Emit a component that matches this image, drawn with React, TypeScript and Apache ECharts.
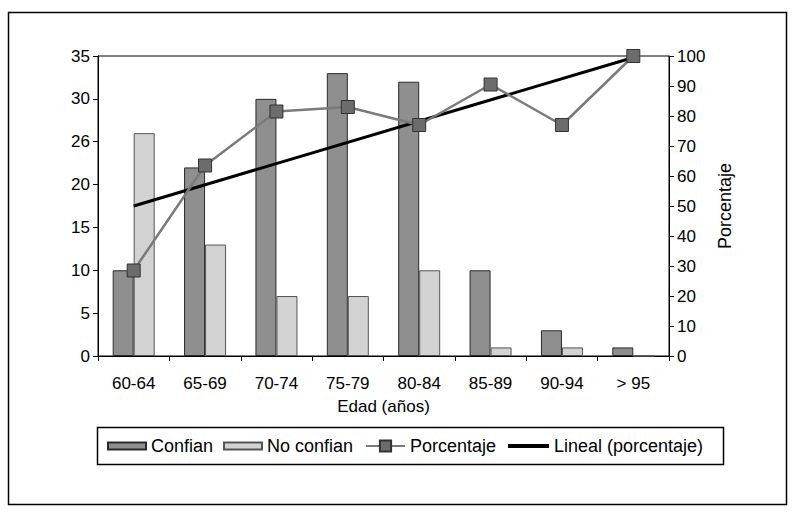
import React, { useEffect, useRef } from "react";
import * as echarts from "echarts";

const categories = ["60-64", "65-69", "70-74", "75-79", "80-84", "85-89", "90-94", "> 95"];
const confian = [10, 22, 30, 33, 32, 10, 3, 1];
const noConfian = [26, 13, 7, 7, 10, 1, 1, 0];
const porcentaje = [28.5, 63.5, 81.5, 83, 77, 90.5, 77, 100];
const lineal = [50, null, null, null, null, null, null, 99.5];
const leftTickLabels = ["0", "5", "10", "15", "20", "26", "30", "35"];
const rightTickLabels = ["0", "10", "20", "30", "40", "50", "60", "70", "80", "90", "100"];

const FONT = "Liberation Sans, Arial, Helvetica, sans-serif";
const FS = 17;
const LFS = 18;

export default function App() {
  const ref = useRef<HTMLDivElement>(null);

  useEffect(() => {
    document.body.style.margin = "0";
    const chart = echarts.init(ref.current!, null, { renderer: "svg" });
    const legendCommon = {
      top: 437,
      padding: 0,
      itemHeight: 7,
      textStyle: { fontSize: LFS, fontFamily: FONT, color: "#000" },
      selectedMode: false,
    };
    chart.setOption({
      animation: false,
      backgroundColor: "#fff",
      textStyle: { fontFamily: FONT },
      graphic: [
        {
          type: "rect",
          shape: { x: 8.5, y: 12.5, width: 778, height: 492 },
          style: { fill: "none", stroke: "#000", lineWidth: 1.5 },
          silent: true,
        },
        {
          type: "rect",
          shape: { x: 97.5, y: 427.5, width: 626, height: 37 },
          style: { fill: "none", stroke: "#000", lineWidth: 1.5 },
          silent: true,
        },
      ],
      legend: [
        { ...legendCommon, left: 107, itemWidth: 38, data: [{ name: "Confian", icon: "rect" }] },
        { ...legendCommon, left: 223, itemWidth: 38, data: [{ name: "No confian", icon: "rect" }] },
        { ...legendCommon, left: 365, itemWidth: 39, itemHeight: 14, data: [{ name: "Porcentaje" }] },
        { ...legendCommon, left: 508, itemWidth: 41, itemHeight: 4, data: [{ name: "Lineal (porcentaje)", icon: "rect" }] },
      ],
      grid: {
        left: 98,
        top: 56,
        width: 571,
        height: 300,
        show: true,
        borderColor: "#000",
        borderWidth: 1,
        backgroundColor: "transparent",
      },
      xAxis: {
        type: "category",
        data: categories,
        name: "Edad (años)",
        nameLocation: "middle",
        nameGap: 42,
        nameTextStyle: { fontSize: FS, fontFamily: FONT, color: "#000" },
        axisLine: { lineStyle: { color: "#000", width: 1 } },
        axisTick: { show: true, length: 5, lineStyle: { color: "#000" } },
        axisLabel: { fontSize: FS, fontFamily: FONT, color: "#000", margin: 19 },
        splitLine: { show: false },
      },
      yAxis: [
        {
          type: "value",
          min: 0,
          max: 35,
          interval: 5,
          axisLine: { show: true, lineStyle: { color: "#000", width: 1 } },
          axisTick: { show: true, length: 5, lineStyle: { color: "#000" } },
          axisLabel: {
            fontSize: FS,
            fontFamily: FONT,
            color: "#000",
            margin: 8,
            formatter: (v: number) => leftTickLabels[Math.round(v / 5)] ?? String(v),
          },
          splitLine: { show: false },
        },
        {
          type: "value",
          min: 0,
          max: 100,
          interval: 10,
          position: "right",
          name: "Porcentaje",
          nameLocation: "middle",
          nameRotate: 90,
          nameGap: 37,
          nameTextStyle: { fontSize: LFS, fontFamily: FONT, color: "#000" },
          axisLine: { show: true, lineStyle: { color: "#000", width: 1 } },
          axisTick: { show: true, length: 5, lineStyle: { color: "#000" } },
          axisLabel: {
            fontSize: FS,
            fontFamily: FONT,
            color: "#000",
            margin: 8,
            formatter: (v: number) => rightTickLabels[Math.round(v / 10)] ?? String(v),
          },
          splitLine: { show: false },
        },
      ],
      series: [
        {
          name: "Confian",
          type: "bar",
          data: confian,
          barWidth: 21,
          barGap: "0%",
          itemStyle: { color: "#8f8f8f", borderColor: "#2a2a2a", borderWidth: 1 },
        },
        {
          name: "No confian",
          type: "bar",
          data: noConfian,
          barWidth: 21,
          barGap: "0%",
          itemStyle: { color: "#d2d2d2", borderColor: "#555", borderWidth: 1 },
        },
        {
          name: "Lineal (porcentaje)",
          type: "line",
          yAxisIndex: 1,
          data: lineal,
          connectNulls: true,
          symbol: "none",
          lineStyle: { color: "#000", width: 3 },
          itemStyle: { color: "#000" },
          z: 3,
        },
        {
          name: "Porcentaje",
          type: "line",
          yAxisIndex: 1,
          data: porcentaje,
          symbol: "rect",
          symbolSize: 13,
          lineStyle: { color: "#7a7a7a", width: 2.5 },
          itemStyle: { color: "#6c6c6c", borderColor: "#333", borderWidth: 1 },
          z: 4,
        },
      ],
    });
    return () => chart.dispose();
  }, []);

  return <div ref={ref} style={{ width: 795, height: 520 }} />;
}
